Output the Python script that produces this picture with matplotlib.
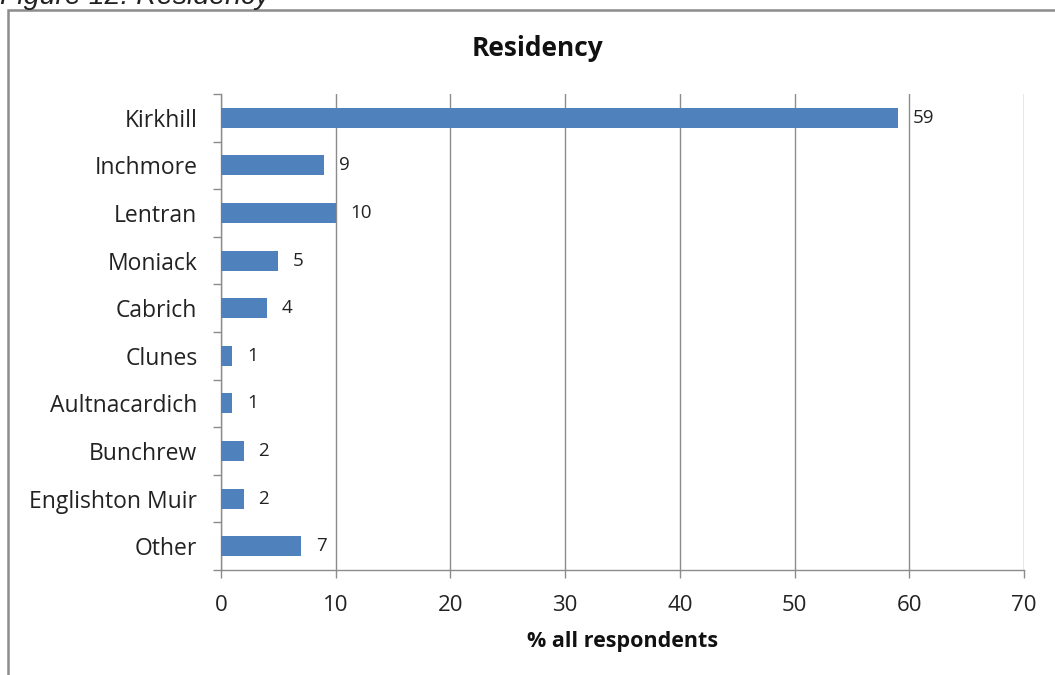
import matplotlib
matplotlib.use("Agg")
import matplotlib.pyplot as plt
from matplotlib.patches import Rectangle

categories = ["Kirkhill", "Inchmore", "Lentran", "Moniack", "Cabrich",
              "Clunes", "Aultnacardich", "Bunchrew", "Englishton Muir", "Other"]
values = [59, 9, 10, 5, 4, 1, 1, 2, 2, 7]
x_ticks = [0, 10, 20, 30, 40, 50, 60, 70]

plt.rcParams["font.family"] = ["Open Sans", "DejaVu Sans"]

W, H = 1055, 675
fig = plt.figure(figsize=(W / 100, H / 100), dpi=100)
fig.patch.set_facecolor("white")

# outer chart frame
fig.patches.append(Rectangle((8 / W, -0.05), 1.2, 1 - 10 / H + 0.05,
                             transform=fig.transFigure, fill=False,
                             edgecolor="#8c8c8c", linewidth=1.8))
fig.text(0 / W, 1 - 4.5 / H, "Figure 12: Residency", style="italic",
         family=["Liberation Sans", "DejaVu Sans"],
         fontsize=20.5, va="baseline", ha="left", color="#222222")

ax = fig.add_axes([221 / W, 1 - 570 / H, (1024 - 221) / W, (570 - 94) / H])
ypos = list(range(len(categories)))
ax.barh(ypos, values, height=0.42, color="#4f81bd", zorder=3)
ax.set_ylim(len(categories) - 0.5, -0.5)
ax.set_xlim(0, 70)
ax.set_xticks(x_ticks)
ax.set_xticklabels([str(t) for t in x_ticks], fontsize=16, color="#222222")
ax.set_yticks(ypos)
ax.set_yticklabels(categories, fontsize=16.5, color="#222222")
ax.tick_params(axis="y", length=0, pad=17)
ax.tick_params(axis="x", length=6, color="#8c8c8c", pad=12, width=1)
# minor ticks on the category axis between bars
ax.set_yticks([i - 0.5 for i in range(len(categories) + 1)], minor=True)
ax.tick_params(axis="y", which="minor", length=6, color="#8c8c8c", width=1)

ax.grid(axis="x", color="#8c8c8c", linewidth=1, zorder=0)
for s in ["top", "right"]:
    ax.spines[s].set_visible(False)
for s in ["left", "bottom"]:
    ax.spines[s].set_color("#8c8c8c")
    ax.spines[s].set_linewidth(1)

for y, v in zip(ypos, values):
    ax.annotate(str(v), (v, y), xytext=(10.5, 0), textcoords="offset points",
                va="center", ha="left", fontsize=13.5, color="#222222")

fig.text(538 / W, 1 - 49 / H, "Residency", fontsize=19, fontweight="bold",
         ha="center", va="center", color="#111111")
fig.text(623 / W, 1 - 641 / H, "% all respondents", fontsize=15.5, fontweight="bold",
         ha="center", va="center", color="#111111")

fig.savefig("out.png", dpi=100, facecolor="white")
